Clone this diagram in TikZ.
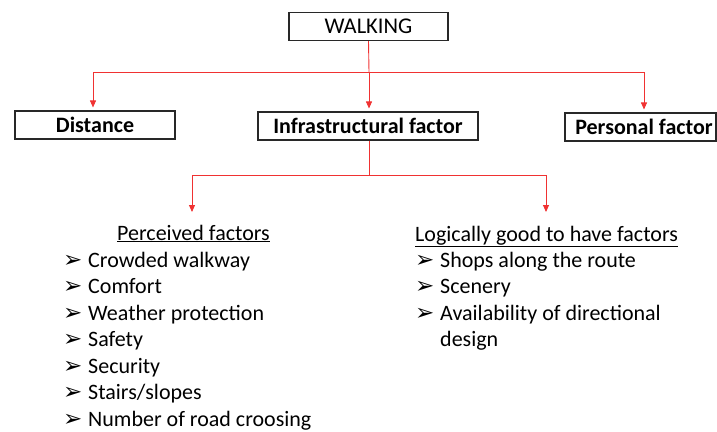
\documentclass[tikz,border=0pt]{standalone}
\usepackage{fontspec}
\setmainfont{Carlito}
\newfontfamily\symfont{DejaVu Sans}
\usetikzlibrary{arrows.meta}
\definecolor{lnred}{RGB}{240,50,50}
\definecolor{boxgray}{RGB}{40,40,40}
\tikzset{
  box/.style={draw=boxgray,line width=1.1pt,inner sep=0pt,minimum height=28pt,font=\fontsize{22.5}{26}\selectfont},
  bbox/.style={box,font=\fontsize{22}{26}\selectfont\bfseries},
  arr/.style={draw=lnred,line width=0.9pt,-{Triangle[width=6pt,length=7pt]}},
  ln/.style={draw=lnred,line width=0.9pt},
  item/.style={anchor=base west,inner sep=0pt,font=\fontsize{22}{26}\selectfont},
  bul/.style={anchor=base west,inner sep=0pt,font=\symfont\fontsize{23}{27}\selectfont},
}
\begin{document}
\begin{tikzpicture}[x=1pt,y=-1pt]
\useasboundingbox (0,0) rectangle (717,431);
\node[box,minimum width=159pt] (walk) at (368.5,26.5) {WALKING};
\node[bbox,minimum width=160pt] (dist) at (95,125) {Distance};
\node[bbox,minimum width=220pt] (infra) at (368,126) {Infrastructural factor};
\node[bbox,minimum width=151pt] (pers) at (640.5,127) {\hspace*{7pt}Personal factor};
\coordinate (j1) at (369,72);
\coordinate (j2) at (369,175);
\draw[ln] (walk.south) -- (j1);
\draw[arr,shorten >=3pt] (j1) -| ([xshift=-2pt]dist.north);
\draw[arr,shorten >=3pt] (j1) -- ([xshift=1pt]infra.north);
\draw[arr,shorten >=3pt] (j1) -| ([xshift=3.5pt]pers.north);
\coordinate (t1) at (192,212);
\coordinate (t2) at (546,212);
\draw[ln] ([xshift=1pt]infra.south) -- (j2);
\draw[arr] (j2) -| (t1);
\draw[arr] (j2) -| (t2);
% left column
\node[item] (pf) at (117,240) {\underline{Perceived factors}};
\foreach \i/\t [count=\k] in {267/Crowded walkway,293.5/Comfort,320/Weather protection,346.5/Safety,373/Security,399.5/Stairs\slash slopes,426/Number of road croosing}{
  \node[bul] (lb\k) at (63,\i) {➢};
  \node[item] (li\k) at (88,\i) {\t};
}
% right column
\node[item] (lg) at (415,241) {\underline{Logically good to have factors}};
\foreach \i/\t [count=\k] in {267/Shops along the route,293.5/Scenery,320/Availability of directional}{
  \node[bul] (rb\k) at (415,\i) {➢};
  \node[item] (ri\k) at (440,\i) {\t};
}
\node[item] (ri4) at (440,346.5) {design};
\end{tikzpicture}
\end{document}
